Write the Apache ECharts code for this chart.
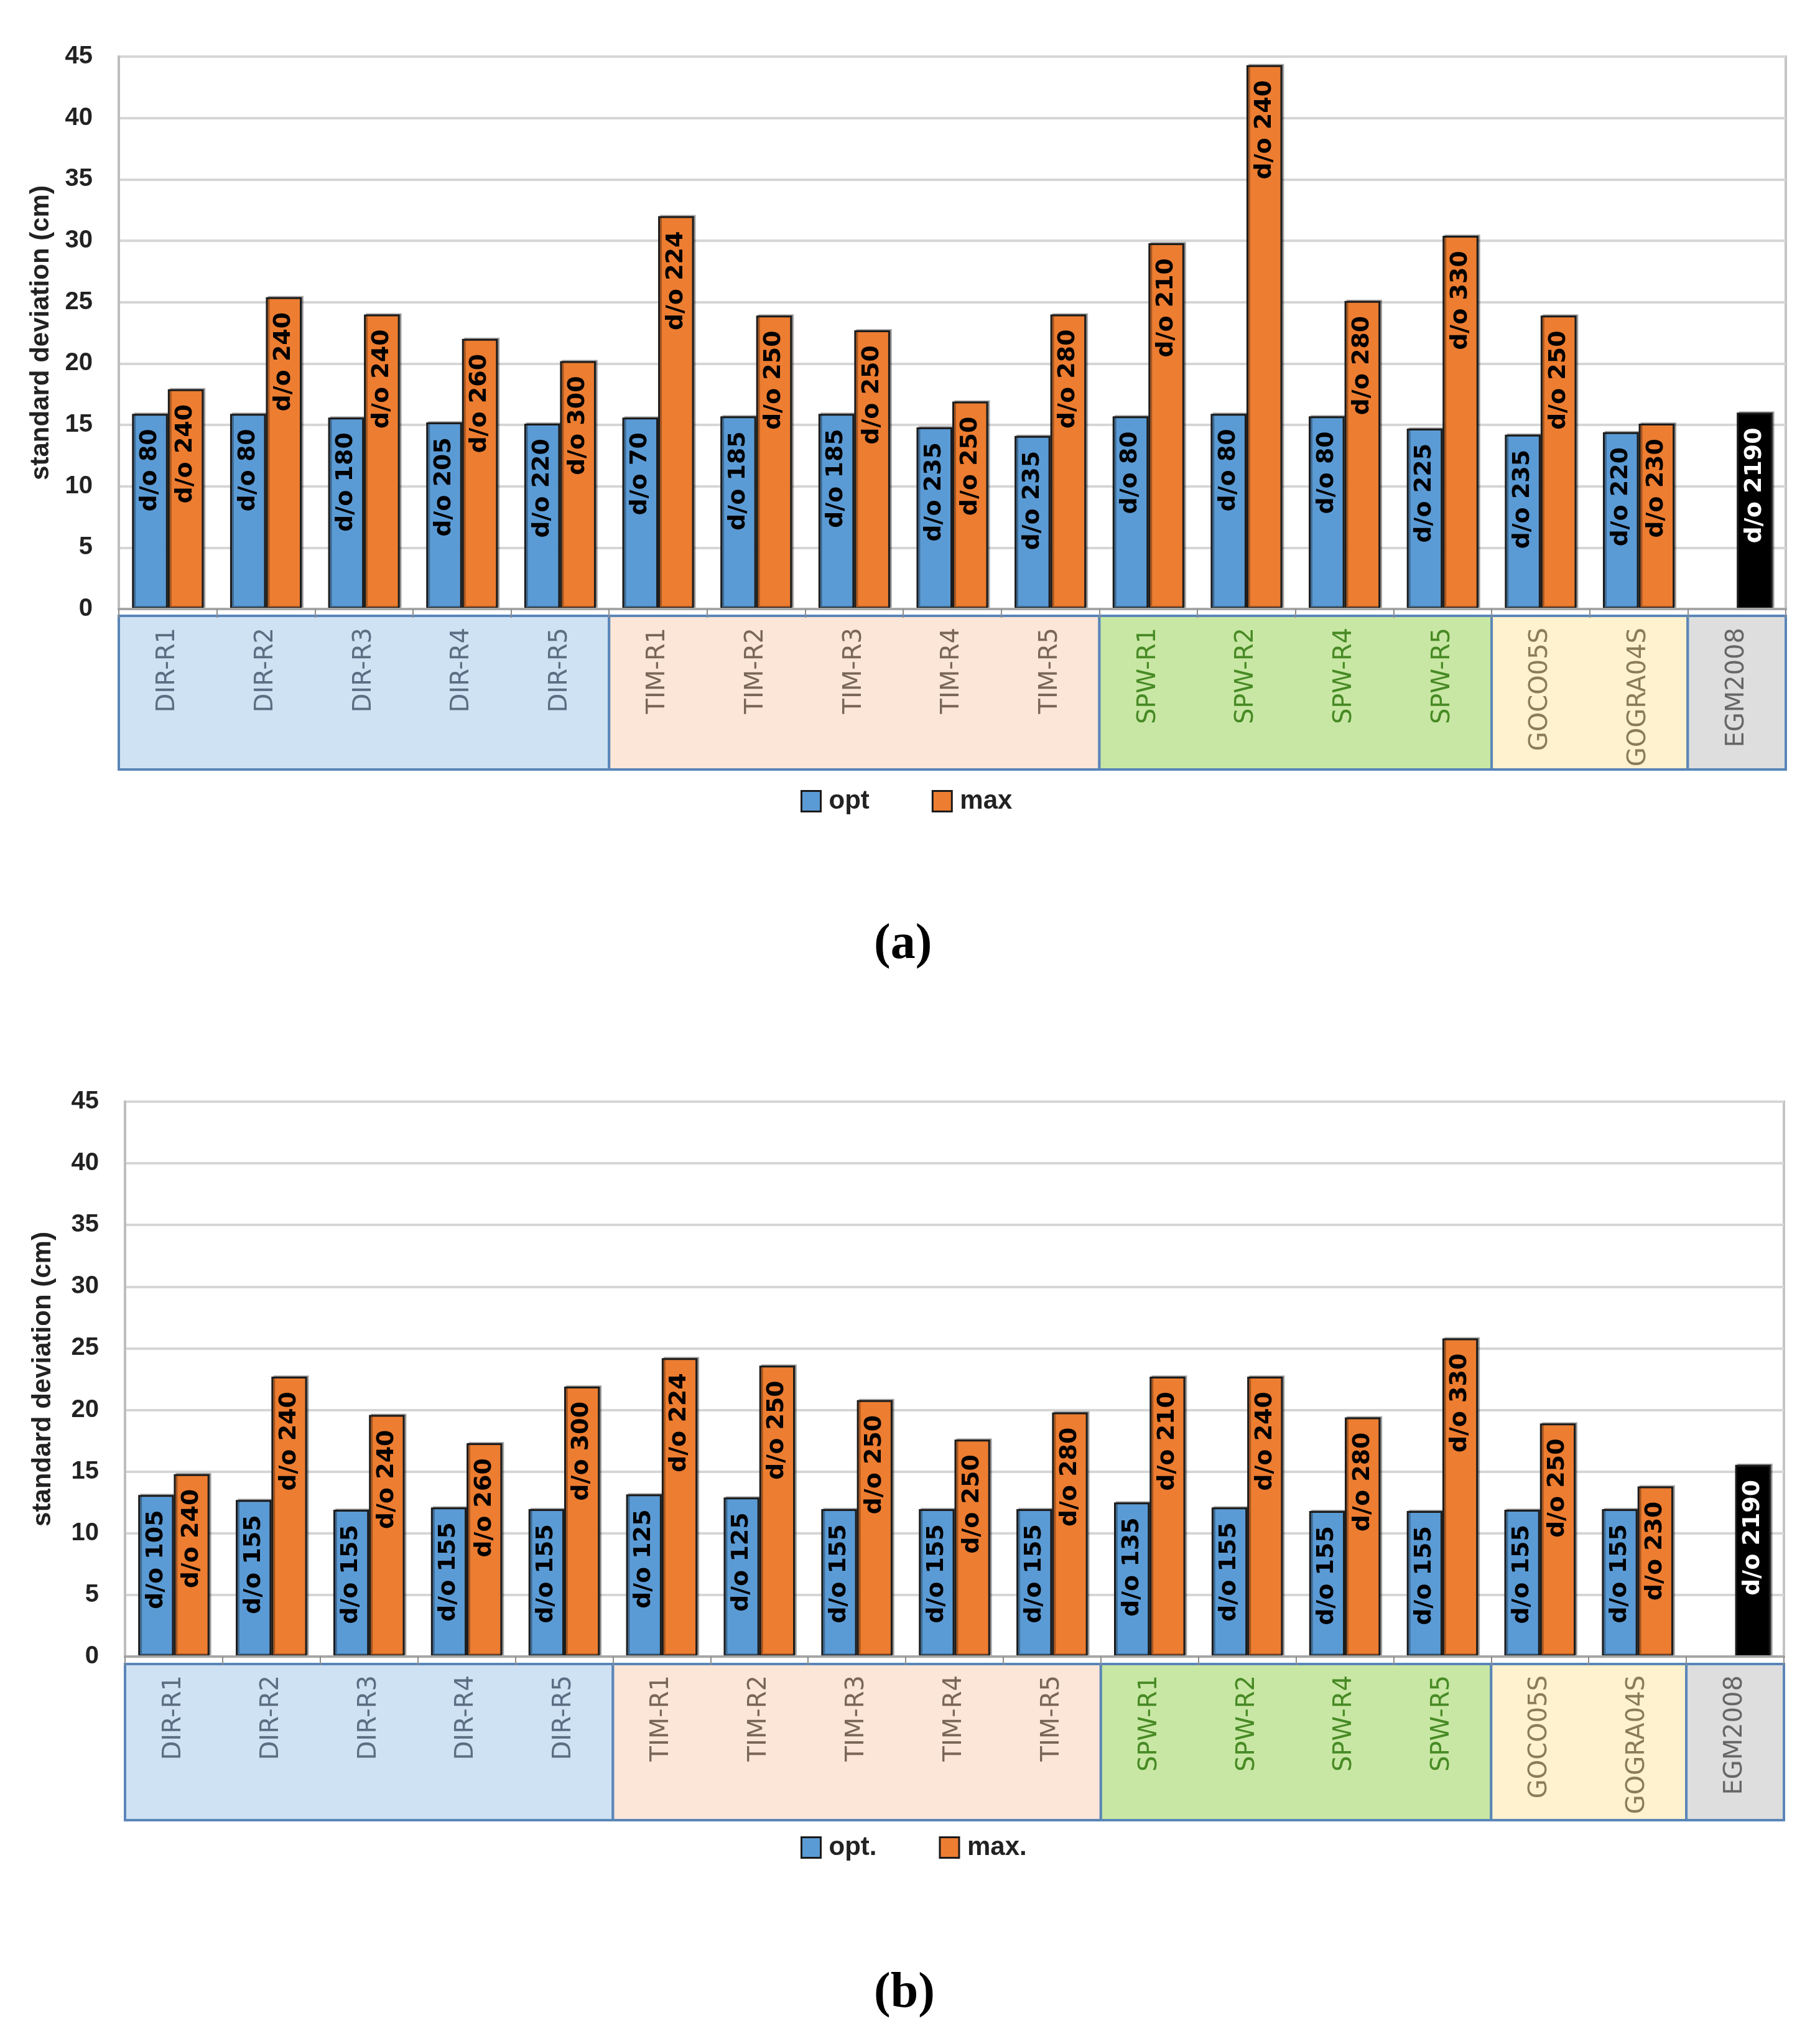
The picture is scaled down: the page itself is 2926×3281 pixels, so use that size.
<!DOCTYPE html>
<html>
<head>
<meta charset="utf-8">
<script src="https://cdn.jsdelivr.net/npm/echarts@6/dist/echarts.min.js"></script>
<style>html,body{margin:0;padding:0;background:#fff}#c{width:2926px;height:3281px}</style>
</head>
<body>
<div id="c"></div>
<script>
const categories = ['DIR-R1','DIR-R2','DIR-R3','DIR-R4','DIR-R5','TIM-R1','TIM-R2','TIM-R3','TIM-R4','TIM-R5','SPW-R1','SPW-R2','SPW-R4','SPW-R5','GOCO05S','GOGRA04S','EGM2008'];
const categoryGroup = [0,0,0,0,0,1,1,1,1,1,2,2,2,2,3,3,4];
// groups: [first category index, last category index, group id]
const groups = [[0,4,0],[5,9,1],[10,13,2],[14,15,3],[16,16,4]];
const groupFill = ['#cfe2f3','#fce6d8','#c8e7a4','#fff2cf','#dedede'];
const groupText = ['#5a6d82','#7a6657','#478a24','#8a7c58','#666666'];

// chart (a)
const optA = [15.9,15.9,15.6,15.2,15.1,15.6,15.7,15.9,14.8,14.1,15.7,15.9,15.7,14.7,14.2,14.4,null];
const maxA = [17.9,25.4,24.0,22.0,20.2,32.0,23.9,22.7,16.9,24.0,29.8,44.3,25.1,30.4,23.9,15.1,16.0];
const optDoA = [80,80,180,205,220,70,185,185,235,235,80,80,80,225,235,220,null];
const maxDoA = [240,240,240,260,300,224,250,250,250,280,210,240,280,330,250,230,2190];

// chart (b)
const optB = [13.1,12.7,11.9,12.1,11.95,13.15,12.9,11.95,11.95,11.95,12.5,12.1,11.8,11.8,11.9,11.95,null];
const maxB = [14.8,22.7,19.6,17.3,21.9,24.2,23.6,20.8,17.6,19.8,22.7,22.7,19.4,25.8,18.9,13.8,15.55];
const optDoB = [105,155,155,155,155,125,125,155,155,155,135,155,155,155,155,155,null];
const maxDoB = [240,240,240,260,300,224,250,250,250,280,210,240,280,330,250,230,2190];

const yMin = 0, yMax = 45, yStep = 5;
const yName = 'standard deviation (cm)';
const legendA = ['opt','max'];
const legendB = ['opt.','max.'];
const egmIndex = categories.indexOf('EGM2008');

const chart = echarts.init(document.getElementById('c'), null, {renderer:'canvas'});

function renderGroup(params, api){
  const i0 = api.value(0), i1 = api.value(1), g = api.value(2);
  const p0 = api.coord([i0, 0]);
  const p1 = api.coord([i1, 1]);
  const bw = api.size([1, 0])[0];
  return {
    type:'rect',
    shape:{x:p0[0]-bw/2, y:p1[1], width:p1[0]-p0[0]+bw, height:p0[1]-p1[1]},
    style:{fill:groupFill[g], stroke:'#5a86b8', lineWidth:4}
  };
}

function barLabel(doArr){
  return {
    show:true, position:'insideTop', distance:24, rotate:90,
    align:'right', verticalAlign:'middle',
    fontFamily:'DejaVu Sans', fontWeight:'bold', fontSize:38, color:'#000',
    formatter: p => doArr[p.dataIndex] == null ? '' : 'd/o ' + doArr[p.dataIndex]
  };
}

function mainX(gi){
  return {
    type:'category', gridIndex:gi, data:categories, z:10,
    axisLine:{show:true, lineStyle:{color:'#a6a6a6', width:4}},
    axisTick:{show:true, length:14, lineStyle:{color:'#8c8c8c', width:2}},
    axisLabel:{interval:0, rotate:90, margin:30, fontFamily:'DejaVu Sans', fontSize:40,
      color:(v, i) => groupText[categoryGroup[categories.indexOf(v)]]},
    splitLine:{show:false}
  };
}
function boxX(gi){
  return {type:'category', gridIndex:gi, data:categories, show:false};
}
function mainY(gi, gap){
  return {
    type:'value', gridIndex:gi, min:yMin, max:yMax, interval:yStep,
    name:yName, nameLocation:'middle', nameGap:gap, nameRotate:90,
    nameTextStyle:{fontFamily:'Liberation Sans', fontWeight:'bold', fontSize:42, color:'#222'},
    axisLine:{show:true, lineStyle:{color:'#bdbdbd', width:4}},
    axisTick:{show:false},
    axisLabel:{margin:42, fontFamily:'Liberation Sans', fontWeight:'bold', fontSize:40, color:'#222'},
    splitLine:{show:true, lineStyle:{color:'#d6d6d6', width:4}}
  };
}
function boxY(gi){
  return {type:'value', gridIndex:gi, min:0, max:1, show:false};
}
function legendCfg(names, top){
  return {
    data:names, left:1282, top:top, itemWidth:31, itemHeight:33, itemGap:100,
    icon:'rect',
    itemStyle:{borderColor:'#1a1a1a', borderWidth:3},
    textStyle:{fontFamily:'Liberation Sans', fontWeight:'bold', fontSize:42, color:'#222', padding:[0,0,0,8]}
  };
}
function titleCfg(letter, top){
  return {
    text:'{p|(}{b|' + letter + '}{p|)}', left:1400, top:top,
    textStyle:{rich:{
      p:{fontFamily:'Liberation Serif', fontSize:80, color:'#000'},
      b:{fontFamily:'Liberation Serif', fontSize:80, fontWeight:'bold', color:'#000'}
    }}
  };
}
function barSeries(name, xi, yi, values, doArr, color, isMax){
  return {
    name:name, type:'bar', xAxisIndex:xi, yAxisIndex:yi,
    barGap:'0%', barCategoryGap:'27%',
    itemStyle:{color:color, borderColor:'#1c1c1c', borderWidth:3,
      shadowColor:'rgba(0,0,0,0.3)', shadowOffsetX:3, shadowOffsetY:-2},
    label:barLabel(doArr),
    data: values.map((v, i) => {
      if (isMax && i === egmIndex) {
        return {value:v, itemStyle:{color:'#000'}, label:{color:'#fff'}};
      }
      return v == null ? '-' : v;
    })
  };
}

const option = {
  animation:false,
  backgroundColor:'#ffffff',
  title:[titleCfg('a', 1474), titleCfg('b', 3160)],
  legend:[legendCfg(legendA, 1262), legendCfg(legendB, 2944)],
  grid:[
    {left:191, right:55, top:91, height:888, show:true, borderColor:'#c4c4c4', borderWidth:4, backgroundColor:'transparent'},
    {left:191, right:55, top:990, height:247},
    {left:201, right:58, top:1771, height:892, show:true, borderColor:'#c4c4c4', borderWidth:4, backgroundColor:'transparent'},
    {left:201, right:58, top:2675, height:251}
  ],
  xAxis:[mainX(0), boxX(1), mainX(2), boxX(3)],
  yAxis:[mainY(0, 104), boxY(1), mainY(2, 111), boxY(3)],
  series:[
    {type:'custom', xAxisIndex:1, yAxisIndex:1, renderItem:renderGroup, data:groups, silent:true, z:1},
    {type:'custom', xAxisIndex:3, yAxisIndex:3, renderItem:renderGroup, data:groups, silent:true, z:1},
    barSeries(legendA[0], 0, 0, optA, optDoA, '#5b9bd5', false),
    barSeries(legendA[1], 0, 0, maxA, maxDoA, '#ed7d31', true),
    barSeries(legendB[0], 2, 2, optB, optDoB, '#5b9bd5', false),
    barSeries(legendB[1], 2, 2, maxB, maxDoB, '#ed7d31', true)
  ]
};
chart.setOption(option);
</script>
</body>
</html>
